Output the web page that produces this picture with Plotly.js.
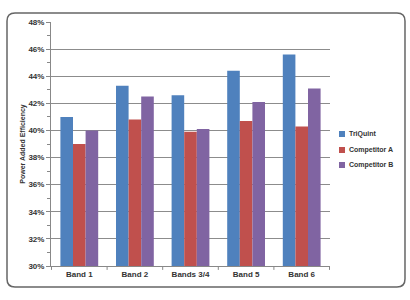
<!DOCTYPE html>
<html><head><meta charset="utf-8">
<script src="https://cdn.plot.ly/plotly-3.0.1.min.js"></script>
<style>html,body{margin:0;padding:0;background:#fff;}#c{width:410px;height:300px;}</style>
</head><body><div id="c"></div>
<script>
const categories = ["Band 1", "Band 2", "Bands 3/4", "Band 5", "Band 6"];
const triquint = [41.0, 43.3, 42.6, 44.4, 45.6];
const competitorA = [39.0, 40.8, 39.9, 40.7, 40.3];
const competitorB = [40.0, 42.5, 40.1, 42.1, 43.1];
const seriesNames = ["TriQuint", "Competitor A", "Competitor B"];
const yTickVals = [30, 32, 34, 36, 38, 40, 42, 44, 46, 48];
const yTickText = yTickVals.map(v => v + "%");

const colors = ["#4F81BD", "#C0504D", "#8064A2"];
const data = [triquint, competitorA, competitorB].map((vals, i) => ({
  type: "bar", x: categories, y: vals, name: seriesNames[i],
  marker: {color: colors[i]}, base: 0, showlegend: false
}));

const PW = 279, PH = 244;
const rx = 8/PW, ry = 8/PH;
const x0 = -0.1577, x1 = 1.2688, y0 = -0.0861, y1 = 1.0369;
const framePath = `M ${x0+rx},${y1} L ${x1-rx},${y1} Q ${x1},${y1} ${x1},${y1-ry} L ${x1},${y0+ry} Q ${x1},${y0} ${x1-rx},${y0} L ${x0+rx},${y0} Q ${x0},${y0} ${x0},${y0+ry} L ${x0},${y1-ry} Q ${x0},${y1} ${x0+rx},${y1} Z`;

const fam = "Liberation Sans, Arial, sans-serif";
const fnt = {family: fam, size: 8, color: "#333", weight: "bold"};
const layout = {
  width: 410, height: 300,
  margin: {l: 51, r: 80, t: 22, b: 34},
  paper_bgcolor: "#fff", plot_bgcolor: "#fff",
  barmode: "group", bargap: 0.32, bargroupgap: 0,
  showlegend: false,
  xaxis: {type: "category", tickfont: fnt, showline: true, linecolor: "#888", linewidth: 1,
          ticks: "", showgrid: false, zeroline: false, fixedrange: true},
  yaxis: {range: [30, 48], tickvals: yTickVals, ticktext: yTickText, tickfont: fnt,
          showline: true, linecolor: "#888", linewidth: 1, ticks: "outside", ticklen: 4,
          tickcolor: "#888", gridcolor: "#8c8c8c", gridwidth: 1, zeroline: false,
          minor: {dtick: 1, ticks: "outside", ticklen: 3, tickcolor: "#888", showgrid: false},
          title: {text: "Power Added Efficiency", font: {family: fam, size: 7, color: "#333", weight: "bold"}, standoff: 1}},
  shapes: [
    {type: "path", xref: "paper", yref: "paper", path: framePath, line: {color: "#666", width: 1.5}, layer: "below"}
  ],
  annotations: []
};
for (let i = 0; i <= categories.length; i++) {
  layout.shapes.push({type: "line", xref: "x", yref: "paper", x0: i - 0.5, x1: i - 0.5, y0: 0, y1: -0.016, line: {color: "#888", width: 1}});
}
// custom legend: small squares + labels
const legY = [134, 150, 165];
seriesNames.forEach((n, i) => {
  const cy = (266 - legY[i]) / PH;
  const sx0 = (339 - 51) / PW, sx1 = (345 - 51) / PW;
  layout.shapes.push({type: "rect", xref: "paper", yref: "paper", x0: sx0, x1: sx1,
    y0: cy - 3/PH, y1: cy + 3/PH, fillcolor: colors[i], line: {width: 0}});
  layout.annotations.push({xref: "paper", yref: "paper", x: (347 - 51) / PW, y: cy,
    xanchor: "left", yanchor: "middle", showarrow: false, text: n,
    font: {family: fam, size: 7, color: "#333", weight: "bold"}});
});
Plotly.newPlot("c", data, layout, {staticPlot: true, displayModeBar: false});
</script></body></html>
